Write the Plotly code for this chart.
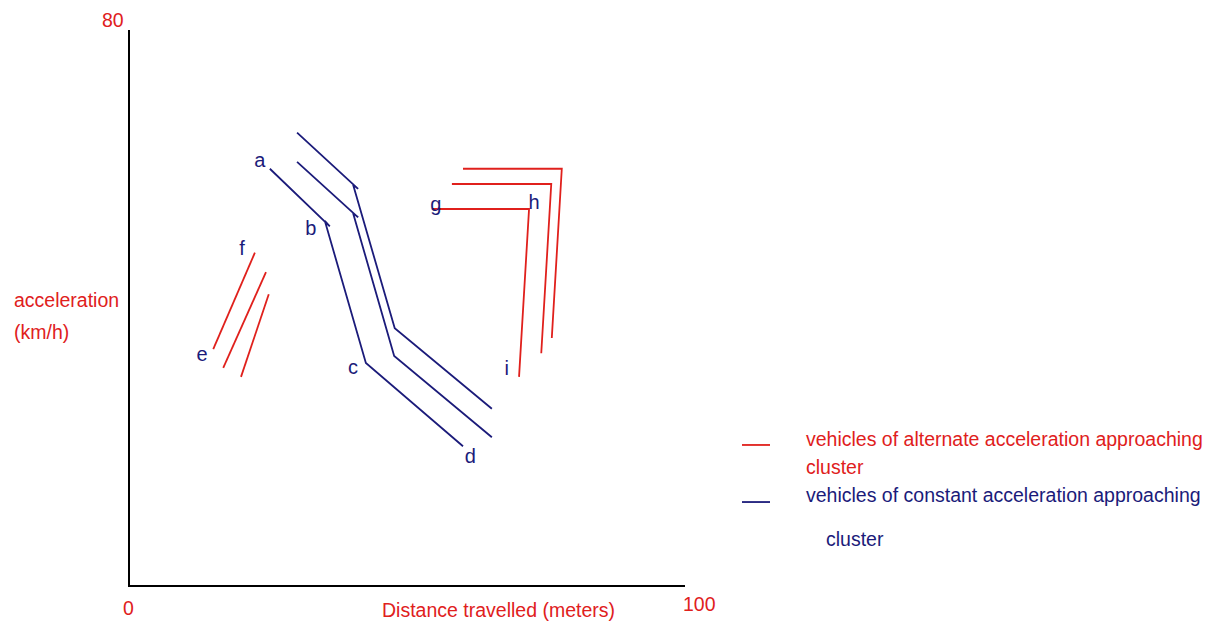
import plotly.graph_objects as go

RED = "#e0201c"
BLUE = "#1b1b7a"

# Constant-acceleration vehicles (blue), path a-b-c-d and two parallel paths
blue_x = [
    [25.2, 36.0, 35.1, 42.5, 60.0],
    [30.1, 41.1, 40.2, 47.6, 65.2],
    [30.1, 41.1, 40.2, 47.7, 65.2],
]
blue_y = [
    [60.0, 51.7, 52.5, 32.0, 20.0],
    [61.0, 53.0, 53.6, 33.0, 21.3],
    [65.2, 57.1, 57.7, 37.0, 25.4],
]

# Alternate-acceleration vehicles (red): e-f strokes and g-h-i paths
red_x = [
    [15.0, 22.5],
    [16.8, 24.5],
    [20.0, 25.0],
    [54.4, 71.9, 70.1],
    [58.0, 75.9, 74.1],
    [60.0, 77.8, 76.0],
]
red_y = [
    [34.0, 47.9],
    [31.3, 45.1],
    [30.0, 41.9],
    [54.2, 54.2, 30.0],
    [57.8, 57.8, 33.4],
    [60.0, 60.0, 35.6],
]

point_labels = ["a", "b", "c", "d", "e", "f", "g", "h", "i"]
label_x = [23.4, 32.6, 40.2, 61.3, 13.0, 20.2, 55.1, 72.8, 67.9]
label_y = [61.0, 51.2, 31.1, 18.3, 33.0, 48.3, 54.6, 54.9, 31.0]

legend_names = [
    "vehicles of alternate acceleration approaching",
    "vehicles of constant acceleration approaching",
]

FONT = "Liberation Sans, Arial, sans-serif"

fig = go.Figure()
for xs, ys in zip(blue_x, blue_y):
    fig.add_trace(go.Scatter(x=xs, y=ys, mode="lines",
                             line=dict(color=BLUE, width=1.8),
                             name=legend_names[1], showlegend=False))
for xs, ys in zip(red_x, red_y):
    fig.add_trace(go.Scatter(x=xs, y=ys, mode="lines",
                             line=dict(color=RED, width=1.8),
                             name=legend_names[0], showlegend=False))

fig.add_trace(go.Scatter(x=label_x, y=label_y, mode="text", text=point_labels,
                         textfont=dict(color=BLUE, size=20, family=FONT),
                         showlegend=False, hoverinfo="skip"))

ann = []
def txt(x, y, s, color, size=19.5, xanchor="center", yanchor="middle"):
    ann.append(dict(x=x, y=y, xref="paper", yref="paper", text=s, showarrow=False,
                    font=dict(color=color, size=size, family=FONT),
                    xanchor=xanchor, yanchor=yanchor))

txt(-0.0306, 1.018, "80", RED)
txt(-0.0036, -0.0414, "0", RED)
txt(1.027, -0.034, "100", RED)
txt(0.4505, -0.0685, "Distance travelled (meters)", RED, xanchor="left", yanchor="bottom")
txt(-0.2126, 0.5135, "acceleration", RED, xanchor="left")
txt(-0.2126, 0.456, "(km/h)", RED, xanchor="left")

txt(1.2144, 0.263, legend_names[0], RED, xanchor="left")
txt(1.2144, 0.2126, "cluster", RED, xanchor="left")
txt(1.2144, 0.162, legend_names[1], BLUE, xanchor="left")
txt(1.2505, 0.0829, "cluster", BLUE, xanchor="left")

shapes = [
    dict(type="line", xref="paper", yref="paper", x0=1.1027, x1=1.1532,
         y0=0.2523, y1=0.2523, line=dict(color=RED, width=1.8)),
    dict(type="line", xref="paper", yref="paper", x0=1.1027, x1=1.1532,
         y0=0.1495, y1=0.1495, line=dict(color=BLUE, width=1.8)),
]

fig.update_layout(
    width=1200, height=616,
    margin=dict(l=122, r=523, t=22, b=39),
    paper_bgcolor="white", plot_bgcolor="white",
    annotations=ann, shapes=shapes, showlegend=False,
    xaxis=dict(range=[0, 100], showline=True, linecolor="black", linewidth=2,
               showgrid=False, zeroline=False, showticklabels=False, ticks=""),
    yaxis=dict(range=[0, 80], showline=True, linecolor="black", linewidth=2,
               showgrid=False, zeroline=False, showticklabels=False, ticks=""),
)

fig.write_html("out.html")
